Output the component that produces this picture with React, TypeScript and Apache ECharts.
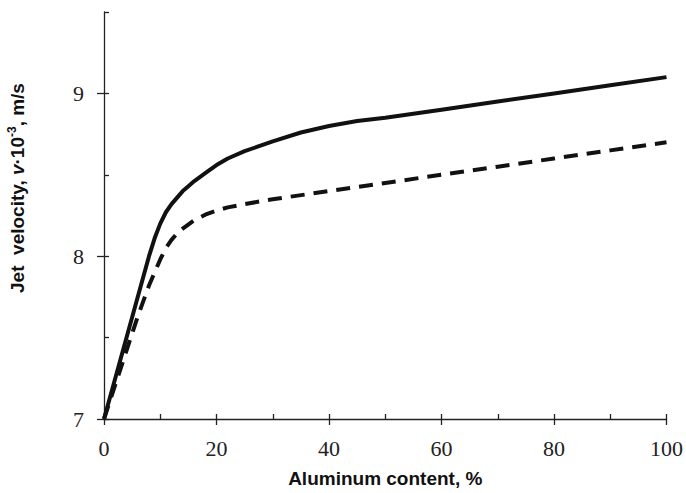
import React, { useEffect, useRef } from "react";
import * as echarts from "echarts";

const solidX = [0, 8, 9, 10, 11, 12, 13, 14, 15, 16, 18, 20, 22, 25, 30, 35, 40, 45, 50, 60, 70, 80, 90, 100];
const solidY = [7, 8.0, 8.11, 8.2, 8.27, 8.32, 8.36, 8.4, 8.43, 8.46, 8.51, 8.56, 8.6, 8.645, 8.705, 8.76, 8.8, 8.83, 8.85, 8.9, 8.95, 9.0, 9.05, 9.1];
const dashX = [0, 6, 8, 9, 10, 11, 12, 13, 14, 16, 18, 20, 22, 25, 30, 40, 50, 60, 70, 80, 90, 100];
const dashY = [7, 7.63, 7.82, 7.9, 7.98, 8.05, 8.1, 8.14, 8.17, 8.22, 8.255, 8.28, 8.3, 8.32, 8.35, 8.4, 8.45, 8.5, 8.55, 8.6, 8.65, 8.7];
const xLabels = [0, 20, 40, 60, 80, 100];
const yLabels = [7, 8, 9];

export default function App() {
  const ref = useRef<HTMLDivElement>(null);
  useEffect(() => {
    if (!ref.current) return;
    const chart = echarts.init(ref.current, null, { renderer: "svg" });
    const axisColor = "#222";
    const tickFont = { fontFamily: "Liberation Serif", fontSize: 22, color: "#222" };
    chart.setOption({
      animation: false,
      grid: { left: 104, right: 18, top: 12, bottom: 66 },
      xAxis: [
        {
          type: "value",
          min: 0,
          max: 100,
          interval: 10,
          axisLine: { show: true, lineStyle: { color: axisColor, width: 1.3 } },
          axisTick: { show: true, inside: false, length: 6, customValues: xLabels, lineStyle: { color: axisColor, width: 1.3 } },
          axisLabel: { show: true, customValues: xLabels, margin: 18, ...tickFont },
          splitLine: { show: false },
          name: "Aluminum content, %",
          nameLocation: "middle",
          nameGap: 50,
          nameTextStyle: { fontFamily: "Liberation Sans", fontWeight: "bold", fontSize: 19, color: "#111" },
        },
        {
          type: "value",
          min: 0,
          max: 100,
          interval: 10,
          position: "bottom",
          axisLine: { show: false },
          axisTick: { show: true, inside: true, length: 5, lineStyle: { color: axisColor, width: 1.3 } },
          axisLabel: { show: false },
          splitLine: { show: false },
        },
      ],
      yAxis: [
        {
          type: "value",
          min: 7,
          max: 9.5,
          interval: 0.5,
          axisLine: { show: true, lineStyle: { color: axisColor, width: 1.3 } },
          axisTick: { show: true, inside: false, length: 7, customValues: yLabels, lineStyle: { color: axisColor, width: 1.3 } },
          axisLabel: { show: true, customValues: yLabels, margin: 20, ...tickFont },
          splitLine: { show: false },
        },
        {
          type: "value",
          min: 7,
          max: 9.5,
          interval: 0.5,
          position: "left",
          axisLine: { show: false },
          axisTick: { show: true, inside: true, length: 5, lineStyle: { color: axisColor, width: 1.3 } },
          axisLabel: { show: false },
          splitLine: { show: false },
        },
      ],
      graphic: [
        {
          type: "text",
          x: 17,
          y: 188,
          rotation: Math.PI / 2,
          style: {
            text: "{b|Jet  velocity, }{i|v}{b|\u00B710}{s|-3}{b|, m/s}",
            align: "center",
            verticalAlign: "middle",
            rich: {
              b: { fontFamily: "Liberation Sans", fontWeight: "bold", fontSize: 19, fill: "#111", lineHeight: 22 },
              i: { fontFamily: "Liberation Sans", fontWeight: "bold", fontStyle: "italic", fontSize: 19, fill: "#111", lineHeight: 22 },
              s: { fontFamily: "Liberation Sans", fontWeight: "bold", fontSize: 12, fill: "#111", lineHeight: 22, verticalAlign: "top" },
            },
          },
        },
      ],
      series: [
        {
          type: "line",
          xAxisIndex: 0,
          yAxisIndex: 0,
          data: solidX.map((x, i) => [x, solidY[i]]),
          showSymbol: false,
          smooth: false,
          lineStyle: { color: "#111", width: 4, type: "solid", join: "round" },
        },
        {
          type: "line",
          xAxisIndex: 0,
          yAxisIndex: 0,
          data: dashX.map((x, i) => [x, dashY[i]]),
          showSymbol: false,
          smooth: false,
          lineStyle: { color: "#111", width: 4, type: [14, 9], join: "round" },
        },
      ],
    });
    return () => chart.dispose();
  }, []);
  return <div ref={ref} style={{ width: 686, height: 493, position: "absolute", left: 0, top: 0 }} />;
}
